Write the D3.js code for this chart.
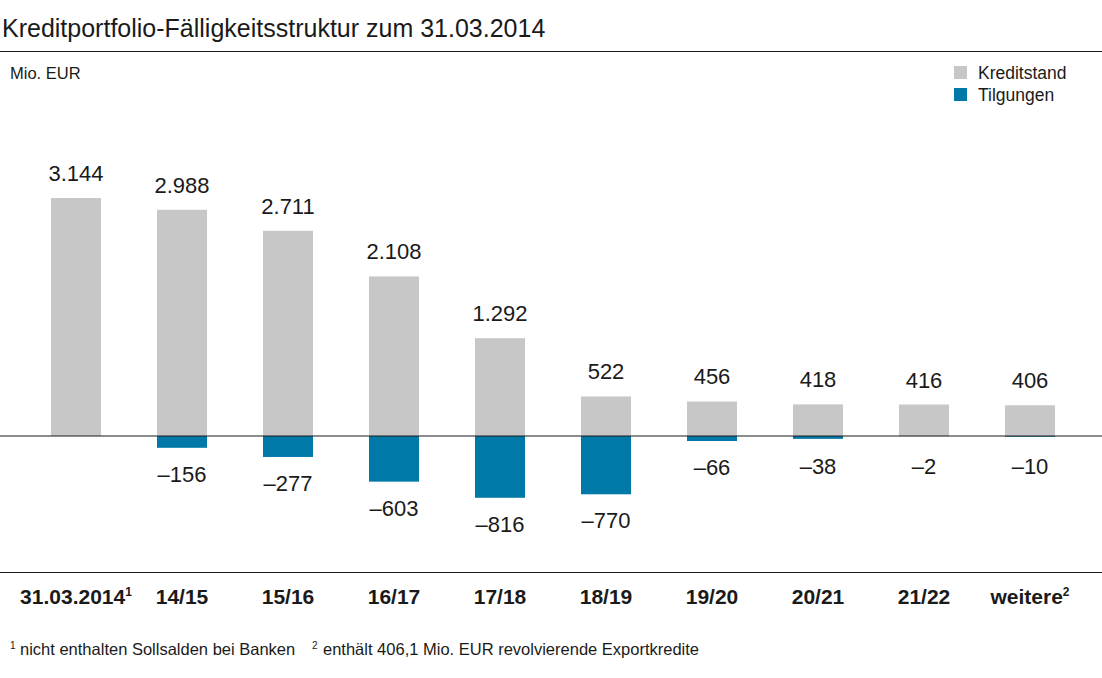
<!DOCTYPE html>
<html><head><meta charset="utf-8">
<script src="https://cdn.jsdelivr.net/npm/d3@7"></script>
<style>body{margin:0;background:#fff}svg{display:block}text{font-family:"Liberation Sans",Arial,Helvetica,sans-serif;fill:#1a1a1a}</style>
</head><body>
<svg id="c" width="1102" height="678"></svg>
<script>
const categories = ["31.03.2014", "14/15", "15/16", "16/17", "17/18", "18/19", "19/20", "20/21", "21/22", "weitere"];
const categorySup = ["1", "", "", "", "", "", "", "", "", "2"];
const kreditstand = [3144, 2988, 2711, 2108, 1292, 522, 456, 418, 416, 406];
const tilgungen = [null, -156, -277, -603, -816, -770, -66, -38, -2, -10];
const legendLabels = ["Kreditstand", "Tilgungen"];
const colors = ["#c6c7c6", "#0079a8"];

const svg = d3.select("#c");
const W = 1102;
const x = d3.scaleBand().domain(categories).range([23, 1083]).paddingInner(0.528).paddingOuter(0.264);
const y = d3.scaleLinear().domain([0, 3144]).range([436, 198]);
const fmt = v => d3.formatLocale({decimal: ",", thousands: ".", grouping: [3], currency: ["", ""], minus: "\u2013"}).format(",")(v);

// title
svg.append("text").attr("x", 2).attr("y", 37).attr("font-size", 25).text("Kreditportfolio-Fälligkeitsstruktur zum 31.03.2014");
svg.append("line").attr("x1", 0).attr("x2", W).attr("y1", 51.5).attr("y2", 51.5).attr("stroke", "#1a1a1a").attr("stroke-width", 1.2);
svg.append("text").attr("x", 10).attr("y", 79).attr("font-size", 16.5).text("Mio. EUR");

// legend
legendLabels.forEach((l, i) => {
  svg.append("rect").attr("x", 954).attr("y", 66 + i * 22).attr("width", 13).attr("height", 13).attr("fill", colors[i]);
  svg.append("text").attr("x", 978).attr("y", 79 + i * 22).attr("font-size", 17.5).text(l);
});

// bars
svg.selectAll("rect.k").data(categories).join("rect").attr("class", "k")
  .attr("x", d => x(d)).attr("width", x.bandwidth())
  .attr("y", (d, i) => y(kreditstand[i])).attr("height", (d, i) => y(0) - y(kreditstand[i]))
  .attr("fill", colors[0]);
svg.selectAll("text.kl").data(categories).join("text").attr("class", "kl")
  .attr("x", d => x(d) + x.bandwidth() / 2).attr("y", (d, i) => y(kreditstand[i]) - 17)
  .attr("text-anchor", "middle").attr("font-size", 22).text((d, i) => fmt(kreditstand[i]));

const tData = categories.map((c, i) => ({c, v: tilgungen[i]})).filter(d => d.v !== null);
svg.selectAll("rect.t").data(tData).join("rect").attr("class", "t")
  .attr("x", d => x(d.c)).attr("width", x.bandwidth())
  .attr("y", y(0)).attr("height", d => y(d.v) - y(0))
  .attr("fill", colors[1]);
svg.selectAll("text.tl").data(tData).join("text").attr("class", "tl")
  .attr("x", d => x(d.c) + x.bandwidth() / 2).attr("y", d => Math.max(y(d.v), y(0) + 4) + 34)
  .attr("text-anchor", "middle").attr("font-size", 22).text(d => fmt(d.v));

// zero line
svg.append("line").attr("x1", 0).attr("x2", W).attr("y1", y(0)).attr("y2", y(0)).attr("stroke", "#1a1a1a").attr("stroke-width", 1.1);

// axis
svg.append("line").attr("x1", 0).attr("x2", W).attr("y1", 572.5).attr("y2", 572.5).attr("stroke", "#1a1a1a").attr("stroke-width", 1.2);
const xl = svg.selectAll("text.xl").data(categories).join("text").attr("class", "xl")
  .attr("x", d => x(d) + x.bandwidth() / 2).attr("y", 604)
  .attr("text-anchor", "middle").attr("font-size", 21).attr("font-weight", "bold");
xl.append("tspan").text(d => d);
xl.append("tspan").attr("font-size", 12).attr("dy", -8).text((d, i) => categorySup[i]);

// footnote
const fn1 = svg.append("text").attr("x", 10).attr("y", 655).attr("font-size", 16.5);
fn1.append("tspan").attr("font-size", 10).attr("dy", -6).text("1");
fn1.append("tspan").attr("x", 20).attr("dy", 6).text("nicht enthalten Sollsalden bei Banken");
const fn2 = svg.append("text").attr("x", 312).attr("y", 655).attr("font-size", 16.5);
fn2.append("tspan").attr("font-size", 10).attr("dy", -6).text("2");
fn2.append("tspan").attr("x", 323).attr("dy", 6).text("enthält 406,1 Mio. EUR revolvierende Exportkredite");
</script>
</body></html>
